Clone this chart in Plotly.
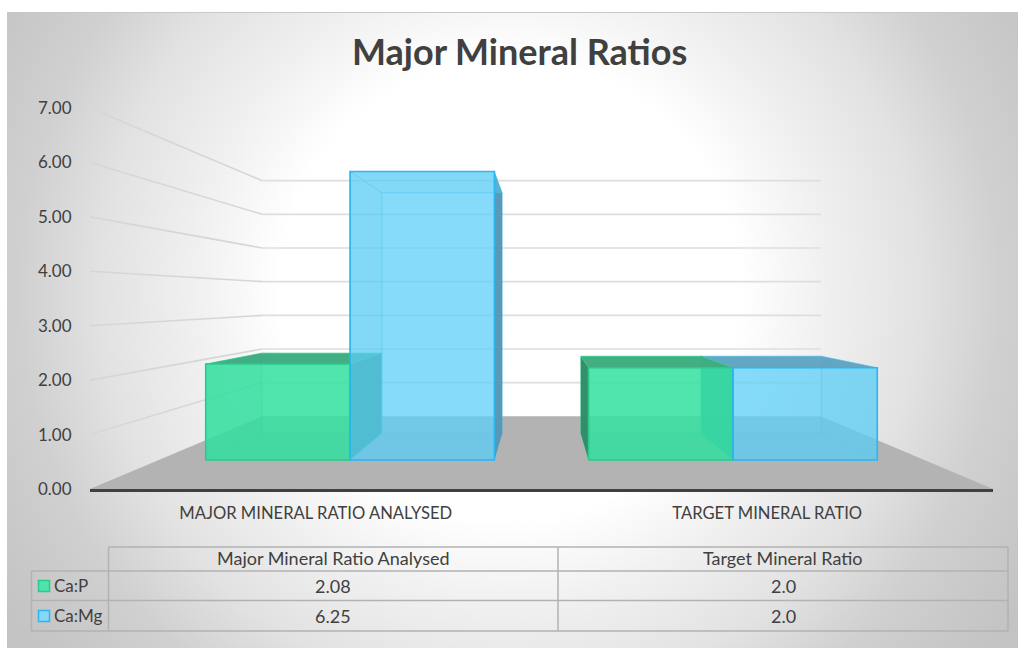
import base64
import plotly.graph_objects as go

# ---- data ----
categories = ["Major Mineral Ratio Analysed", "Target Mineral Ratio"]
series_names = ["Ca:P", "Ca:Mg"]
ca_p = [2.08, 2.0]
ca_mg = [6.25, 2.0]
ca_p_labels = ["2.08", "2.0"]
ca_mg_labels = ["6.25", "2.0"]
value_ticks = [0, 1, 2, 3, 4, 5, 6, 7]

W, H = 1018, 648
TEXT = "#404040"
FONT = "Lato"

# perspective of the 3-D box, in axis units
VU, VV = 1.0, 3.5
S_WALL, S_FRONT, S_BACK = 0.6186, 0.848, 0.707
BAR_HALF = 0.377


def P(u, v, s):
    return VU + s * (u - VU), VV + s * (v - VV)


STY = {
    "Ca:P": dict(base="54,225,161", a=0.63, inner="46,215,152", dark="rgba(47,138,102,0.95)",
                 top="rgba(62,172,128,0.95)", edge="#2cc98f"),
    "Ca:Mg": dict(base="95,208,248", a=0.51, inner="84,196,240", dark="rgba(84,150,180,0.95)",
                  top="rgba(95,163,194,0.95)", edge="#29b6f2"),
}

fig = go.Figure()


def poly(pts, fill=None, line=None, width=1.0, close=True):
    xs = [p[0] for p in pts]
    ys = [p[1] for p in pts]
    if close:
        xs.append(xs[0])
        ys.append(ys[0])
    fig.add_trace(go.Scatter(
        x=xs, y=ys, mode="lines", fill="toself" if fill else None,
        fillcolor=fill, line=dict(color=line or "rgba(0,0,0,0)", width=width if line else 0),
        hoverinfo="skip", showlegend=False))


# floor
poly([P(0, 0, 1), P(2, 0, 1), P(2, 0, S_WALL), P(0, 0, S_WALL)], fill="#b3b3b3")

# gridlines: side wall then back wall
for v in value_ticks[1:]:
    poly([P(0, v, 1), P(0, v, S_WALL)], line="#d6d6d6", width=1.6, close=False)
    poly([P(0, v, S_WALL), P(2, v, S_WALL)], line="#dedede", width=1.6, close=False)


def draw_bar(u0, u1, v, st):
    e = "rgba(%s,0.4)" % st["inner"]
    f, b = S_FRONT, S_BACK
    base = "rgba(%s,%s)" % (st["base"], st["a"])
    inner = "rgba(%s,%s)" % (st["inner"], st["a"])
    poly([P(u0, 0, f), P(u1, 0, f), P(u1, 0, b), P(u0, 0, b)], fill=inner, line=e)
    poly([P(u0, 0, b), P(u1, 0, b), P(u1, v, b), P(u0, v, b)], fill=base, line=e)
    poly([P(u0, 0, f), P(u0, v, f), P(u0, v, b), P(u0, 0, b)],
         fill=st["dark"] if u0 > VU else inner, line=None if u0 > VU else e)
    poly([P(u1, 0, f), P(u1, v, f), P(u1, v, b), P(u1, 0, b)],
         fill=st["dark"] if u1 < VU else inner, line=None if u1 < VU else e)
    poly([P(u0, v, f), P(u1, v, f), P(u1, v, b), P(u0, v, b)],
         fill=st["top"] if v < VV else inner, line=e)
    poly([P(u0, 0, f), P(u1, 0, f), P(u1, v, f), P(u0, v, f)], fill=base)


def front_outline(u0, u1, v, st):
    poly([P(u0, 0, S_FRONT), P(u1, 0, S_FRONT), P(u1, v, S_FRONT), P(u0, v, S_FRONT)],
         line=st["edge"], width=1.6)


for i in range(len(categories)):
    mid = i + 0.5
    bars = [(mid - BAR_HALF, mid, ca_p[i], STY["Ca:P"]),
            (mid, mid + BAR_HALF, ca_mg[i], STY["Ca:Mg"])]
    order = bars if mid < VU else bars[::-1]
    for b_ in order:
        draw_bar(*b_)
    for b_ in bars:
        front_outline(*b_)

# ---- background card (radial gradient) ----
svg = (
    '<svg xmlns="http://www.w3.org/2000/svg" width="1011" height="636" viewBox="0 0 1011 636">'
    '<defs><radialGradient id="g" gradientUnits="userSpaceOnUse" cx="503" cy="278" r="600">'
    '<stop offset="0.383" stop-color="#ffffff"/><stop offset="0.517" stop-color="#f1f1f1"/>'
    '<stop offset="0.683" stop-color="#e2e2e2"/><stop offset="0.817" stop-color="#d0d0d0"/>'
    '<stop offset="1" stop-color="#c3c3c3"/>'
    '</radialGradient></defs><rect width="1011" height="636" fill="url(#g)"/></svg>'
)
uri = "data:image/svg+xml;base64," + base64.b64encode(svg.encode()).decode()


def px(x):
    return x / W


def py(y):
    return 1 - y / H


images = [dict(source=uri, xref="paper", yref="paper", x=px(7), y=py(12), sizex=1011 / W,
               sizey=636 / H, xanchor="left", yanchor="top", sizing="stretch", layer="below")]

# ---- data table ----
GRID = "#b2b2b2"
shapes = [dict(type="line", xref="paper", yref="paper", x0=px(7), x1=1, y0=py(12.5), y1=py(12.5),
               line=dict(color="#c8c8c8", width=1))]


def hline(y, x0, x1):
    shapes.append(dict(type="line", xref="paper", yref="paper", x0=px(x0), x1=px(x1),
                       y0=py(y), y1=py(y), line=dict(color=GRID, width=1.5)))


def vline(x, y0, y1):
    shapes.append(dict(type="line", xref="paper", yref="paper", x0=px(x), x1=px(x),
                       y0=py(y0), y1=py(y1), line=dict(color=GRID, width=1.5)))


hline(547, 108.5, 1008)
for y in (571, 600.5, 631):
    hline(y, 31.5, 1008)
vline(31.5, 571, 631)
for x in (108.5, 558, 1008):
    vline(x, 547, 631)

annotations = [dict(text="<b>Major Mineral Ratios</b>", xref="paper", yref="paper",
                    x=px(519), y=py(51), showarrow=False, xanchor="center", yanchor="middle",
                    font=dict(family=FONT, size=36, color=TEXT))]


def cell(text, x, y, anchor="center", size=18):
    annotations.append(dict(text=text, xref="paper", yref="paper", x=px(x), y=py(y),
                            showarrow=False, xanchor=anchor, yanchor="middle",
                            font=dict(family=FONT, size=size, color=TEXT)))


cell(categories[0], 333, 558)
cell(categories[1], 783, 558)
rows = [(series_names[0], ca_p_labels, 585.5), (series_names[1], ca_mg_labels, 615.5)]
swatch = {"Ca:P": ("#50e3ac", "#2cc98f"), "Ca:Mg": ("#85d8f8", "#29b6f2")}
for name, labels, y in rows:
    cell(name, 52, y, "left", size=17)
    cell(labels[0], 333, y)
    cell(labels[1], 783, y)
    fc, lc = swatch[name]
    shapes.append(dict(type="rect", xref="paper", yref="paper", x0=px(38.5), x1=px(49.5),
                       y0=py(y - 5), y1=py(y + 6), fillcolor=fc, line=dict(color=lc, width=1.5)))

fig.update_layout(
    width=W, height=H, autosize=False,
    margin=dict(l=0, r=0, t=0, b=0, pad=0),
    paper_bgcolor="white", plot_bgcolor="rgba(0,0,0,0)",
    showlegend=False, images=images, shapes=shapes, annotations=annotations,
    font=dict(family=FONT, color=TEXT),
    xaxis=dict(domain=[px(90), px(993)], range=[0, 2], tickmode="array", tickvals=[0.5, 1.5],
               ticktext=[c.upper() for c in categories], showgrid=False, zeroline=False,
               automargin=False,
               showline=True, linecolor="#404040", linewidth=2.5, ticks="outside", ticklen=7,
               tickcolor="rgba(0,0,0,0)", tickfont=dict(family=FONT, size=16.6, color=TEXT)),
    yaxis=dict(domain=[py(489), py(108)], range=[0, 7], tickmode="array", tickvals=value_ticks,
               tickformat=".2f", showgrid=False, zeroline=False, showline=False, automargin=False,
               ticks="outside", ticklen=14, tickcolor="rgba(0,0,0,0)",
               tickfont=dict(family=FONT, size=17, color=TEXT)),
)

fig.write_html("out.html", config=dict(displayModeBar=False),
               post_script="document.body.style.margin='0';")
